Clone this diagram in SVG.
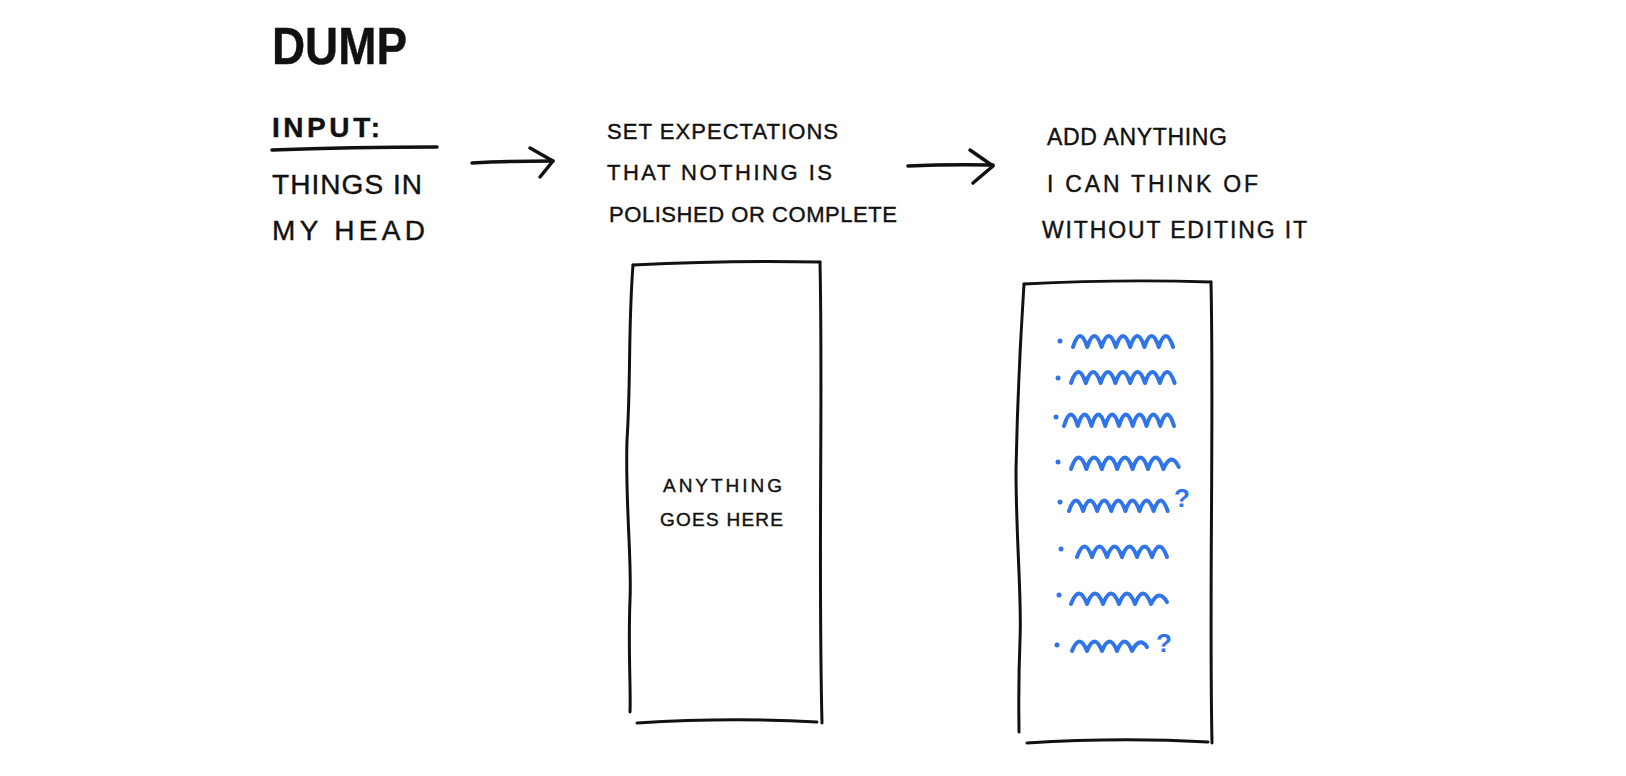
<svg xmlns="http://www.w3.org/2000/svg" width="1626" height="776" viewBox="0 0 1626 776">
<style>
  .t { font-family: "Liberation Sans", Arial, sans-serif; fill: #111; stroke: #111; stroke-width: 0.4; }
  .ln { fill: none; stroke: #111; stroke-linecap: round; stroke-linejoin: round; }
  .box { stroke-width: 3; }
  .arr { stroke-width: 3.5; }
  .sq { fill: none; stroke: #2f74e8; stroke-width: 4; stroke-linecap: round; stroke-linejoin: round; }
  .dot { fill: #2f74e8; }
  .q { font-family: "Liberation Sans", Arial, sans-serif; fill: #2f74e8; font-size: 26px; font-weight: bold; }
</style>
<rect width="1626" height="776" fill="#fff"/>

<g id="title">
  <text class="t" x="272" y="64" font-size="52" font-weight="bold" textLength="135" lengthAdjust="spacingAndGlyphs">DUMP</text>
</g>

<g id="input">
  <text class="t" x="272" y="137" font-size="28" font-weight="bold" textLength="108" lengthAdjust="spacing">INPUT:</text>
  <path class="ln" d="M272,150 Q350,147 437,147" stroke-width="3.5"/>
  <text class="t" x="272" y="194" font-size="28" textLength="150" lengthAdjust="spacing">THINGS IN</text>
  <text class="t" x="272" y="240" font-size="28" textLength="153" lengthAdjust="spacing">MY HEAD</text>
</g>

<g id="expectations">
  <text class="t" x="607" y="139" font-size="22" textLength="231" lengthAdjust="spacing">SET EXPECTATIONS</text>
  <text class="t" x="607" y="180" font-size="22" textLength="225" lengthAdjust="spacing">THAT NOTHING IS</text>
  <text class="t" x="609" y="222" font-size="22" textLength="288" lengthAdjust="spacing">POLISHED OR COMPLETE</text>
</g>

<g id="add-anything">
  <text class="t" x="1047" y="145" font-size="23" textLength="180" lengthAdjust="spacing">ADD ANYTHING</text>
  <text class="t" x="1047" y="192" font-size="23" textLength="211" lengthAdjust="spacing">I CAN THINK OF</text>
  <text class="t" x="1042" y="238" font-size="23" textLength="265" lengthAdjust="spacing">WITHOUT EDITING IT</text>
</g>

<g id="box-empty">
  <path class="ln box" d="M633,265 Q730,260 820,262"/>
  <path class="ln box" d="M820,262 C823,400 818,560 822,723"/>
  <path class="ln box" d="M633,265 C628,330 631,380 627,440 C625,500 632,560 630,600 C628,650 631,690 630,712"/>
  <path class="ln box" d="M637,723 Q730,717 817,722"/>
  <text class="t" x="663" y="492" font-size="19" textLength="119" lengthAdjust="spacing">ANYTHING</text>
  <text class="t" x="660" y="526" font-size="19" textLength="123" lengthAdjust="spacing">GOES HERE</text>
</g>

<g id="box-list">
  <path class="ln box" d="M1024,284 Q1120,279 1211,282"/>
  <path class="ln box" d="M1211,282 C1214,420 1209,600 1212,743"/>
  <path class="ln box" d="M1024,284 C1019,360 1017,420 1016,470 C1016,540 1022,600 1020,640 C1018,690 1019,715 1019,732"/>
  <path class="ln box" d="M1027,743 Q1120,737 1208,742"/>

  <circle class="dot" cx="1060" cy="341" r="2.5"/>
  <path class="sq" d="M1073,347 q7,-22 14.3,0 7,-22 14.3,0 7,-22 14.3,0 7,-22 14.3,0 7,-22 14.3,0 7,-22 14.3,0 7,-22 14.3,0"/>

  <circle class="dot" cx="1058" cy="378" r="2.5"/>
  <path class="sq" d="M1071,383 q7.4,-22 14.8,0 7.4,-22 14.8,0 7.4,-22 14.8,0 7.4,-22 14.8,0 7.4,-22 14.8,0 7.4,-22 14.8,0 7.4,-22 14.8,0"/>

  <circle class="dot" cx="1056" cy="417" r="2.5"/>
  <path class="sq" d="M1064,426 q6.9,-23 13.75,0 6.9,-23 13.75,0 6.9,-23 13.75,0 6.9,-23 13.75,0 6.9,-23 13.75,0 6.9,-23 13.75,0 6.9,-23 13.75,0 6.9,-23 13.75,0"/>

  <circle class="dot" cx="1058" cy="462" r="2.5"/>
  <path class="sq" d="M1071,469 q7.7,-23 15.4,0 7.7,-23 15.4,0 7.7,-23 15.4,0 7.7,-23 15.4,0 7.7,-23 15.4,0 7.7,-23 15.4,0 7.7,-18 15.4,-2"/>

  <circle class="dot" cx="1060" cy="502" r="2.5"/>
  <path class="sq" d="M1069,511 q7,-21 14.1,0 7,-21 14.1,0 7,-21 14.1,0 7,-21 14.1,0 7,-21 14.1,0 7,-21 14.1,0 7,-21 14.1,0"/>
  <text class="q" x="1174" y="507">?</text>

  <circle class="dot" cx="1061" cy="549" r="2.5"/>
  <path class="sq" d="M1077,557 q7.5,-21 15,0 7.5,-21 15,0 7.5,-21 15,0 7.5,-21 15,0 7.5,-21 15,0 7.5,-21 15,0"/>

  <circle class="dot" cx="1059" cy="595" r="2.5"/>
  <path class="sq" d="M1071,604 q8,-21 16,0 8,-21 16,0 8,-21 16,0 8,-21 16,0 8,-21 16,0 8,-16 16,-2"/>

  <circle class="dot" cx="1057" cy="645" r="2.5"/>
  <path class="sq" d="M1072,651 q7.5,-19 15,0 7.5,-19 15,0 7.5,-19 15,0 7.5,-19 15,0 7.5,-15 15,-4"/>
  <text class="q" x="1156" y="652">?</text>
</g>

<g id="connectors">
  <path class="ln arr" d="M472,163 Q512,161 553,161"/>
  <path class="ln arr" d="M530,148 L553,161 L540,177"/>
  <path class="ln arr" d="M908,166 Q950,164 993,165"/>
  <path class="ln arr" d="M970,150 L993,166 L973,183"/>
</g>
</svg>
